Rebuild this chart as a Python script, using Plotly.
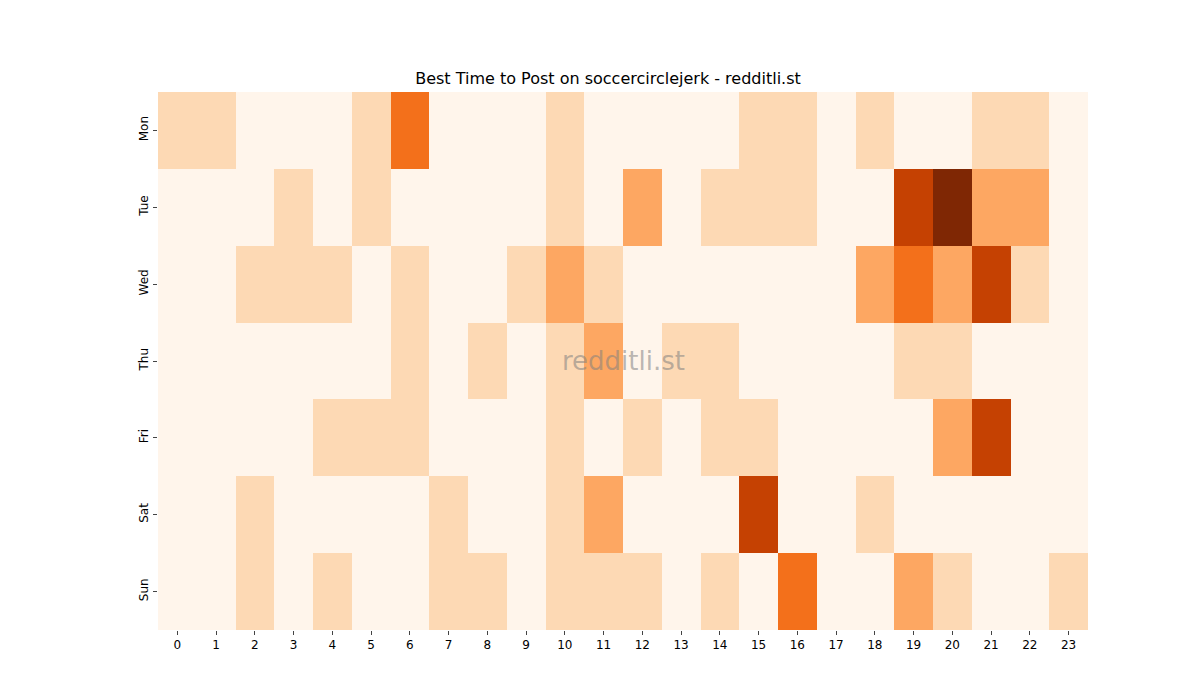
import plotly.graph_objects as go

hours = [str(h) for h in range(24)]
days = ["Mon", "Tue", "Wed", "Thu", "Fri", "Sat", "Sun"]
mon = [1,1,0,0,0,1,3,0,0,0,1,0,0,0,0,1,1,0,1,0,0,1,1,0]
tue = [0,0,0,1,0,1,0,0,0,0,1,0,2,0,1,1,1,0,0,4,5,2,2,0]
wed = [0,0,1,1,1,0,1,0,0,1,2,1,0,0,0,0,0,0,2,3,2,4,1,0]
thu = [0,0,0,0,0,0,1,0,1,0,1,2,0,1,1,0,0,0,0,1,1,0,0,0]
fri = [0,0,0,0,1,1,1,0,0,0,1,0,1,0,1,1,0,0,0,0,2,4,0,0]
sat = [0,0,1,0,0,0,0,1,0,0,1,2,0,0,0,4,0,0,1,0,0,0,0,0]
sun = [0,0,1,0,1,0,0,1,1,0,1,1,1,0,1,0,3,0,0,2,1,0,0,1]
z = [mon, tue, wed, thu, fri, sat, sun]

colors = ["#fff5eb", "#fdd9b4", "#fda762", "#f3701b", "#c54102", "#7f2704"]
cs = [[i / 5, c] for i, c in enumerate(colors)]

fig = go.Figure(go.Heatmap(z=z, x=hours, y=days, colorscale=cs, zmin=0, zmax=5,
                           showscale=False, xgap=0, ygap=0))
fig.update_layout(
    width=1200, height=700, paper_bgcolor="white", plot_bgcolor="white",
    margin=dict(l=150, r=120, t=84, b=78),
    font=dict(family="DejaVu Sans", size=12, color="black"),
    title=dict(text="Best Time to Post on soccercirclejerk - redditli.st", x=0.5, xanchor="center",
               y=1 - 70 / 700, yanchor="middle", font=dict(size=16)),
    xaxis=dict(showgrid=False, zeroline=False, ticks="outside", ticklen=4, tickangle=0),
    yaxis=dict(showgrid=False, zeroline=False, ticks="outside", ticklen=4, tickangle=-90,
               autorange="reversed"),
    annotations=[dict(text="redditli.st", x=0.5, y=0.5, xref="paper", yref="paper",
                      showarrow=False, font=dict(size=26, color="rgba(128,128,128,0.55)"))],
)
fig.write_html("out.html")
